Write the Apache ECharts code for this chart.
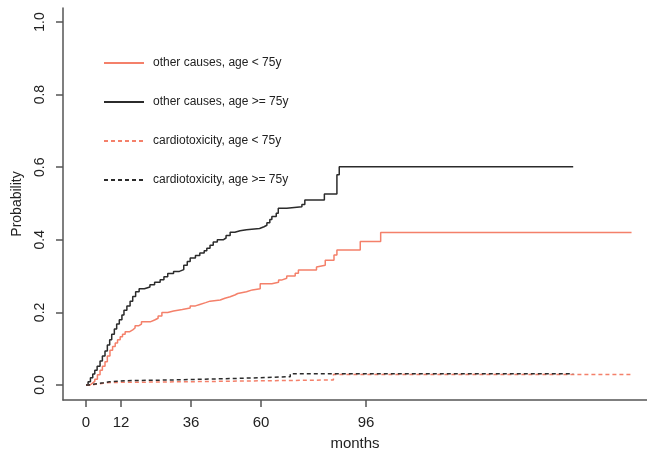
<!DOCTYPE html>
<html>
<head>
<meta charset="utf-8">
<script src="https://cdn.jsdelivr.net/npm/echarts@6/dist/echarts.min.js"></script>
<style>
  html, body { margin: 0; padding: 0; background: #fff; }
  #chart { width: 647px; height: 454px; }
</style>
</head>
<body>
<div id="chart"></div>
<script>
// cumulative incidence, [month, probability] step points
var otherYoung = [[0,0],[1.4,0.005],[2.2,0.01],[3,0.016],[3.9,0.028],[4.8,0.041],[5.6,0.052],[6.5,0.064],[7.3,0.08],[8.2,0.096],[9.1,0.106],[10,0.116],[10.8,0.125],[11.7,0.133],[12.5,0.14],[13.4,0.147],[15,0.152],[16,0.157],[16.8,0.163],[18,0.168],[19,0.174],[22,0.179],[23.5,0.184],[24.7,0.19],[26,0.2],[28,0.204],[30,0.208],[33,0.212],[35.7,0.218],[37.5,0.222],[39,0.227],[41,0.231],[42.5,0.234],[46,0.239],[47.6,0.243],[49.4,0.248],[51,0.252],[52,0.257],[55,0.262],[57,0.265],[59.7,0.279],[63.7,0.283],[66,0.289],[67,0.294],[68.8,0.3],[71.7,0.308],[72.8,0.317],[79,0.325],[79.5,0.33],[82,0.344],[85,0.358],[86,0.372],[94,0.395],[101,0.42],[187,0.42]];
var otherOld = [[0,0],[0.7,0.009],[1.5,0.02],[2.3,0.03],[3,0.041],[3.8,0.052],[4.8,0.066],[5.6,0.08],[6.5,0.094],[7.3,0.11],[8.1,0.125],[8.8,0.14],[9.7,0.154],[10.5,0.168],[11.4,0.18],[12.3,0.193],[13,0.206],[14,0.218],[15.1,0.231],[16,0.244],[17,0.257],[18.2,0.265],[20,0.27],[21.9,0.276],[23.5,0.283],[25.4,0.29],[26.7,0.298],[28,0.307],[30,0.313],[32,0.318],[33.5,0.33],[34.7,0.34],[35.7,0.35],[37.5,0.357],[39,0.364],[40.5,0.37],[41.4,0.377],[42.5,0.385],[43.6,0.394],[45,0.4],[47,0.405],[48,0.412],[49.4,0.421],[51,0.425],[52.8,0.428],[55,0.431],[59.5,0.436],[61,0.44],[62,0.447],[63,0.456],[63.7,0.464],[65.2,0.473],[65.9,0.487],[68.8,0.491],[74,0.497],[75,0.51],[81.7,0.526],[86,0.579],[86.8,0.601],[167,0.601]];
var cardioYoung = [[0,0],[2,0.003],[4,0.005],[6,0.007],[8.5,0.009],[34.5,0.014],[84.8,0.029],[187,0.029]];
var cardioOld = [[0,0],[1,0.002],[2.5,0.004],[4,0.006],[6,0.009],[8,0.012],[14,0.014],[30,0.016],[40,0.018],[51.5,0.023],[70,0.031],[167,0.031]];

var xTicks = [0, 12, 36, 60, 96];
var yTicks = [0, 0.2, 0.4, 0.6, 0.8, 1.0];
var names = ['other causes, age < 75y', 'other causes, age >= 75y',
             'cardiotoxicity, age < 75y', 'cardiotoxicity, age >= 75y'];

var ORANGE = '#f4806a';
var BLACK = '#2b2b2b';
var AXIS = '#555';
var FONT = 'Liberation Sans, Arial, sans-serif';

function stepSeries(name, data, color, dashed) {
  return {
    name: name,
    type: 'line',
    step: 'end',
    data: data,
    symbol: 'none',
    color: color,
    lineStyle: { color: color, width: 1.5, type: dashed ? [4, 3] : 'solid' }
  };
}

var chart = echarts.init(document.getElementById('chart'));
chart.setOption({
  animation: false,
  backgroundColor: '#fff',
  textStyle: { fontFamily: FONT },
  grid: { left: 63, right: 0, top: 8, bottom: 54, outerBoundsMode: 'none' },
  legend: {
    orient: 'vertical',
    left: 98,
    top: 52,
    itemWidth: 40,
    itemHeight: 14,
    itemGap: 27,
    data: names,
    itemStyle: { opacity: 0 },  // hide the circle, keep the line
    textStyle: { fontSize: 12, color: '#222', fontFamily: FONT, padding: [0, 0, 0, 4] }
  },
  xAxis: {
    type: 'value',
    min: -7.9,
    max: 192.3,
    name: 'months',
    nameLocation: 'middle',
    nameGap: 36,
    nameTextStyle: { fontSize: 15, color: '#222', fontFamily: FONT },
    splitLine: { show: false },
    axisLine: { onZero: false, lineStyle: { color: AXIS, width: 1.5 } },
    axisTick: { length: 7, customValues: xTicks, lineStyle: { color: AXIS, width: 1.5 } },
    axisLabel: { customValues: xTicks, margin: 15, fontSize: 15, color: '#222', fontFamily: FONT }
  },
  yAxis: {
    type: 'value',
    min: -0.0413,
    max: 1.0386,
    name: 'Probability',
    nameLocation: 'middle',
    nameGap: 39,
    nameTextStyle: { fontSize: 14, color: '#222', fontFamily: FONT },
    splitLine: { show: false },
    axisLine: { show: true, onZero: false, lineStyle: { color: AXIS, width: 1.5 } },
    axisTick: { show: true, length: 7, customValues: yTicks, lineStyle: { color: AXIS, width: 1.5 } },
    axisLabel: {
      customValues: yTicks,
      rotate: 90,
      margin: 16,
      fontSize: 14,
      color: '#222',
      fontFamily: FONT,
      formatter: function (v) { return v.toFixed(1); }
    }
  },
  series: [
    stepSeries(names[0], otherYoung, ORANGE, false),
    stepSeries(names[1], otherOld, BLACK, false),
    stepSeries(names[2], cardioYoung, ORANGE, true),
    stepSeries(names[3], cardioOld, BLACK, true)
  ]
});
</script>
</body>
</html>
